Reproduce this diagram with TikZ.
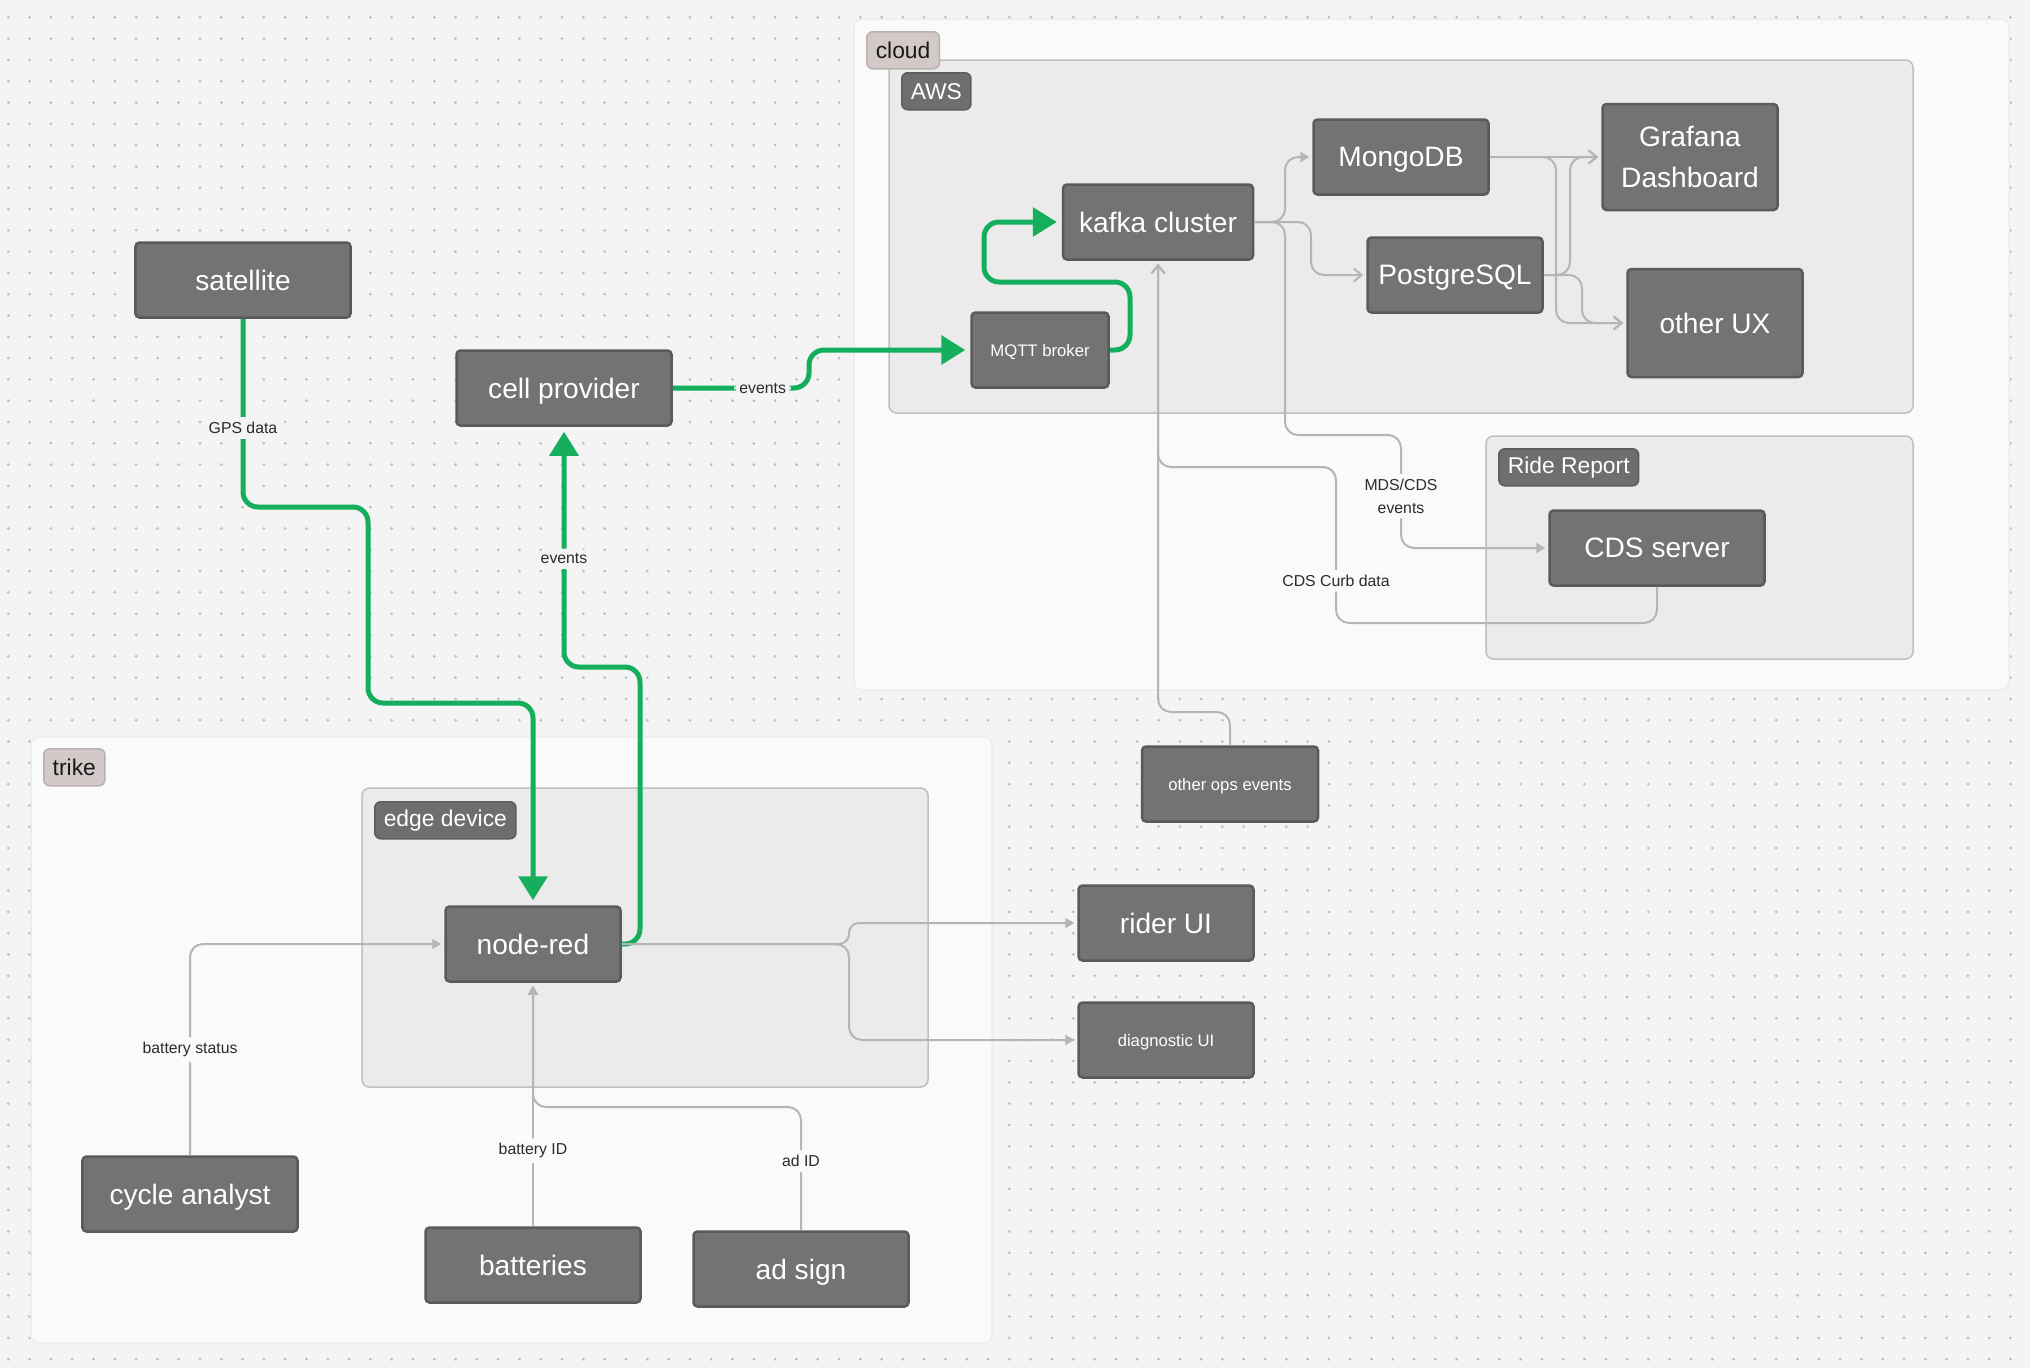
\documentclass[tikz,border=0pt]{standalone}
\usepackage{fontspec}
\setmainfont{Liberation Sans}
\usetikzlibrary{arrows.meta}

\definecolor{bgc}{HTML}{F4F4F4}
\definecolor{dotc}{HTML}{BDBDBD}
\definecolor{outerc}{HTML}{FAFAFA}
\definecolor{outerline}{HTML}{EDEDED}
\definecolor{innerc}{HTML}{EBEBEB}
\definecolor{innerline}{HTML}{BFBFBF}
\definecolor{boxfill}{HTML}{737373}
\definecolor{boxline}{HTML}{5A5A5A}
\definecolor{tagdark}{HTML}{6E6E6E}
\definecolor{tagpink}{HTML}{D3C9C9}
\definecolor{tagpinkline}{HTML}{BBB0B0}
\definecolor{greenc}{HTML}{14AE5C}
\definecolor{grayc}{HTML}{B5B5B5}
\definecolor{lblc}{HTML}{2B2B2B}

\begin{document}
\begin{tikzpicture}[x=0.2mm, y=-0.2mm, >=Stealth,
    box/.style={draw=boxline, fill=boxfill, line width=0.5mm, rounded corners=0.8mm,
        text=white, font=\fontsize{16}{23}\selectfont, minimum height=15mm,
        inner sep=0pt, align=center, text depth=0pt},
    smalltext/.style={font=\fontsize{9.5}{11}\selectfont},
    zone/.style={draw=outerline, fill=outerc, line width=0.3mm, rounded corners=1.5mm},
    group/.style={draw=innerline, fill=innerc, line width=0.3mm, rounded corners=1.5mm},
    darktag/.style={fill=tagdark, draw=tagdark!85!black, line width=0.3mm, rounded corners=1.2mm,
        text=white, font=\fontsize{13}{15}\selectfont, minimum height=7.4mm,
        inner xsep=1.8mm, inner ysep=0pt, anchor=north west},
    pinktag/.style={darktag, fill=tagpink, draw=tagpinkline, text=black!90},
    flow/.style={draw=greenc, line width=1mm, rounded corners=3mm,
        -{Triangle[length=4.8mm,width=5.7mm]}, shorten >=1mm},
    link/.style={draw=grayc, line width=0.4mm, rounded corners=2.6mm,
        -{Triangle[length=1.8mm,width=2mm]}, shorten >=0.6mm},
    openlink/.style={link, -{Straight Barb[length=1.6mm,width=2.6mm]}},
    lbl/.style={fill=bgc, text=lblc, font=\fontsize{9}{13}\selectfont, inner sep=1mm, align=center},
    lblin/.style={lbl, fill=outerc},
]
    % canvas with dot grid
    \useasboundingbox (0,0) rectangle (2030,1368);
    \fill[bgc] (0,0) rectangle (2030,1368);
    \foreach \i in {0,...,94} {
        \foreach \j in {0,...,63} {
            \fill[dotc] (8.3+21.3*\i,17.3+21.3*\j) circle (0.3mm);
        }
    }

    % zones and groups
    \path[zone] (854,19) rectangle (2009,690);
    \path[group] (889,60) rectangle (1913,413);
    \path[group] (1486,436) rectangle (1913,659);
    \path[zone] (31,737) rectangle (992,1343);
    \path[group] (362,788) rectangle (928,1087);

    \node[pinktag] (cloudtag) at (866,31) {cloud};
    \node[darktag] (awstag) at (901,72) {AWS};
    \node[darktag] (ridetag) at (1498,448) {Ride Report};
    \node[pinktag] (triketag) at (43,748) {trike};
    \node[darktag] (edgetag) at (374,801) {edge device};

    % boxes
    \node[box, minimum width=43mm] (satellite) at (243,280) {satellite};
    \node[box, minimum width=43mm] (cellprov) at (564,388) {cell provider};
    \node[box, smalltext, minimum width=27.4mm] (mqtt) at (1040,350) {MQTT broker};
    \node[box, minimum width=38mm] (kafka) at (1158,222) {kafka cluster};
    \node[box, minimum width=35mm] (mongo) at (1401,157) {MongoDB};
    \node[box, minimum width=35mm] (postgres) at (1455,275) {PostgreSQL};
    \node[box, minimum width=35mm, minimum height=21.2mm, text depth={}] (grafana) at (1690,157) {Grafana\\Dashboard};
    \node[box, minimum width=35mm, minimum height=21.6mm] (otherux) at (1715,323) {other UX};
    \node[box, minimum width=43mm] (cds) at (1657,548) {CDS server};
    \node[box, smalltext, minimum width=35.2mm] (ops) at (1230,784) {other ops events};
    \node[box, minimum width=35mm] (rider) at (1166,923) {rider UI};
    \node[box, smalltext, minimum width=35mm] (diag) at (1166,1040) {diagnostic UI};
    \node[box, minimum width=35mm] (nodered) at (533,944) {node-red};
    \node[box, minimum width=43mm] (cycle) at (190,1194) {cycle analyst};
    \node[box, minimum width=43mm] (batteries) at (533,1265) {batteries};
    \node[box, minimum width=43mm] (adsign) at (801,1269) {ad sign};

    % green data path
    \draw[flow] (satellite.south) -- node[lbl, pos=0.58] {GPS data} (243,507) -| (368,703) -| (nodered.north);
    \draw[flow] (nodered.east) -| (640,667) -- (564,667) -- node[lbl, pos=0.45] {events} (cellprov.south);
    \draw[flow] (cellprov.east) -- node[lbl, pos=0.66] {events} (809,388) |- (mqtt.west);
    \draw[flow] (mqtt.east) -| (1130,282) -- (984,282) |- (kafka.west);

    % cloud links
    \draw[link] (kafka.east) -- (1285,222) |- (mongo.west);
    \draw[openlink] (kafka.east) -- (1311,222) |- (postgres.west);
    \draw[link] (kafka.east) -- (1285,222) |- (1401,435) -- node[lblin, pos=0.54] {MDS/CDS\\events} (1401,548) -- (cds.west);
    \draw[openlink] (cds.south) |- (1336,623) -- node[lblin, pos=0.27] {CDS Curb data} (1336,467) -| (kafka.south);
    \draw[openlink] (ops.north) |- (1158,712) -- (kafka.south);
    \draw[openlink] (mongo.east) -- (grafana.west);
    \draw[openlink] (mongo.east) -- (1556,157) |- (otherux.west);
    \draw[openlink] (postgres.east) -- (1570,275) |- (grafana.west);
    \draw[openlink] (postgres.east) -- (1582,275) |- (otherux.west);

    % trike links
    \draw[link, rounded corners=2mm] (nodered.east) -- (849,944) |- (rider.west);
    \draw[link] (nodered.east) -- (849,944) |- (diag.west);
    \draw[link] (cycle.north) -- node[lblin, pos=0.5] {battery status} (190,944) -- (nodered.west);
    \draw[link] (batteries.north) -- node[lblin, pos=0.31] {battery ID} (nodered.south);
    \draw[link] (adsign.north) -- node[lblin, pos=0.56] {ad ID} (801,1107) -| (nodered.south);
\end{tikzpicture}
\end{document}
